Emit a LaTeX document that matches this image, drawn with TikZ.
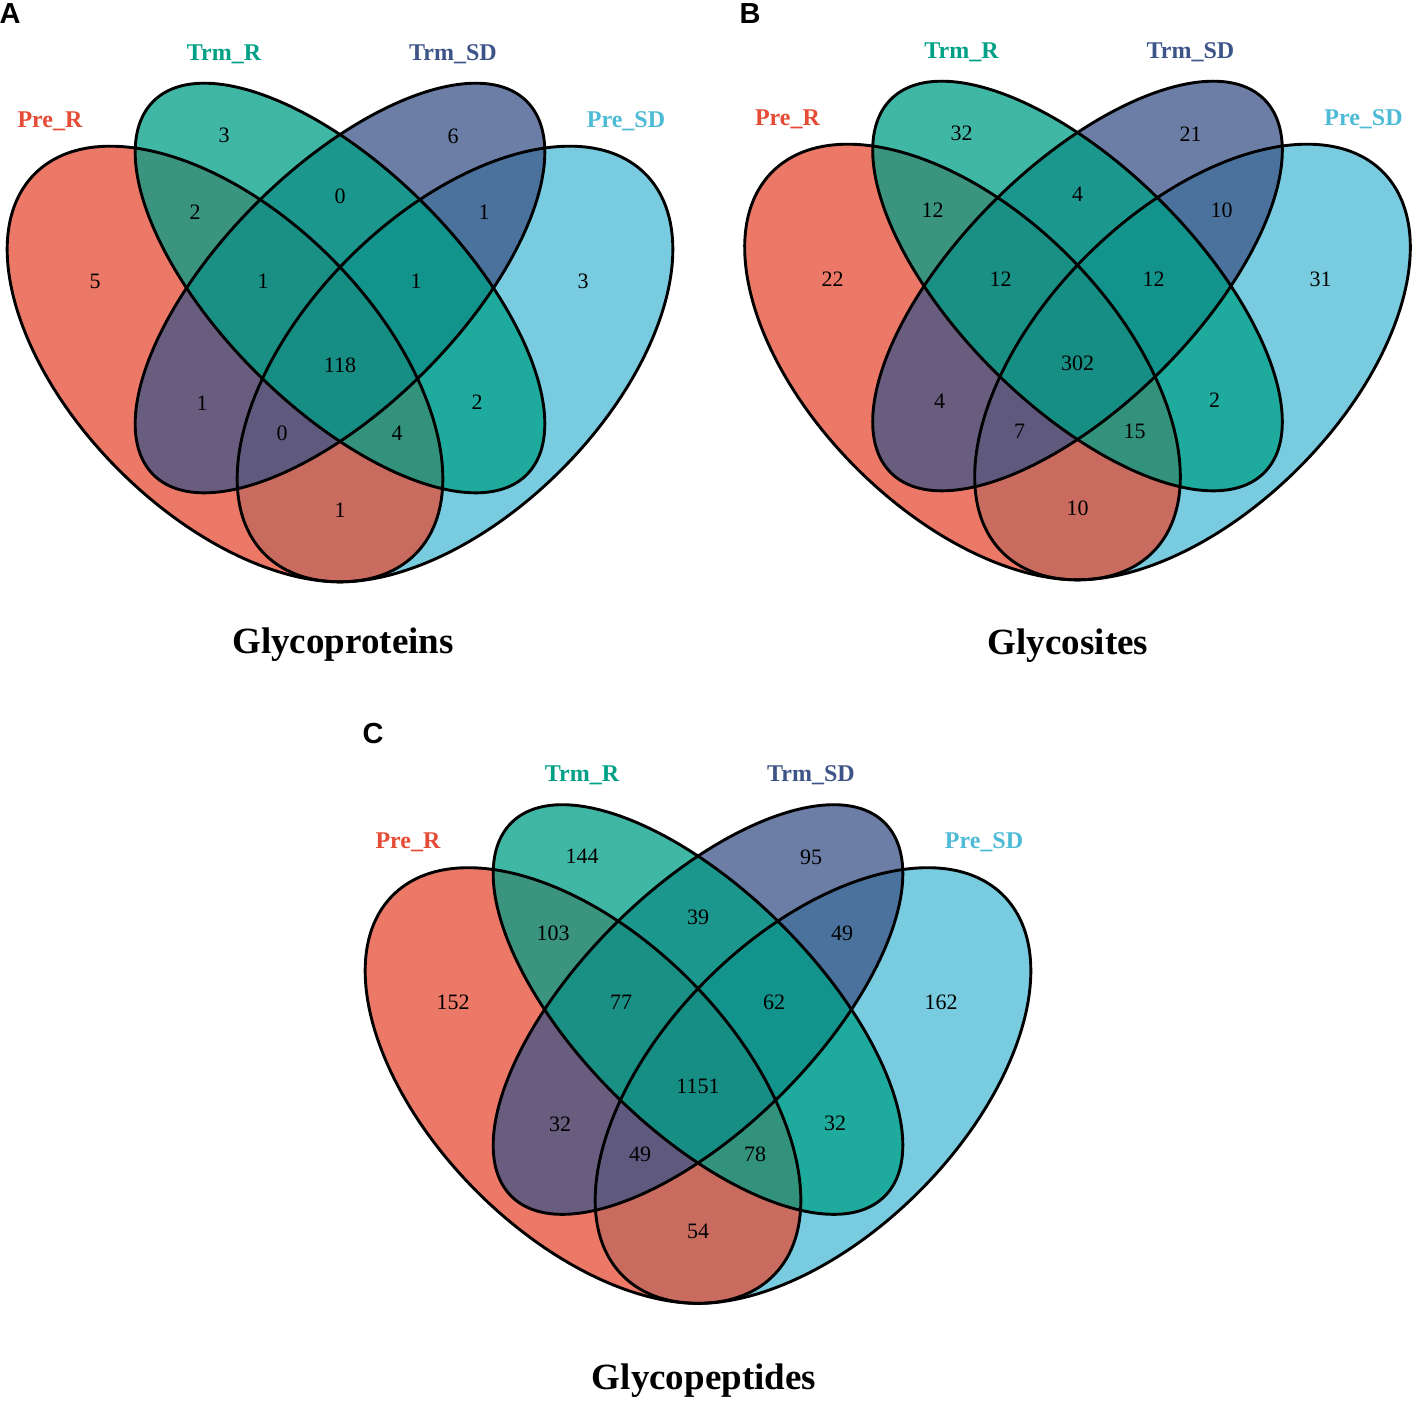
\documentclass[tikz,border=0pt]{standalone}
\usepackage{fontspec}
\setmainfont{Liberation Serif}
\newfontfamily\arialfont{Liberation Sans}
\definecolor{cPreR}{HTML}{E64B35}
\definecolor{cTrmR}{HTML}{00A087}
\definecolor{cTrmSD}{HTML}{3C5488}
\definecolor{cPreSD}{HTML}{4DBBD5}
\tikzset{
  numlab/.style={font=\fontsize{11}{13}\selectfont, text=black, inner sep=0pt},
  setlab/.style={font=\fontsize{12}{14}\selectfont\bfseries, inner sep=0pt, anchor=base},
  titlelab/.style={font=\fontsize{18.5}{22}\selectfont\bfseries, inner sep=0pt, anchor=base},
  panellab/.style={font=\arialfont\fontsize{14.5}{17}\selectfont\bfseries, inner sep=0pt},
  venfill/.style={fill opacity=0.75},
  venline/.style={draw=black, line width=1.45pt},
}
\newcommand\vennshapes{%
  \fill[venfill, cPreSD, rotate around={45:(455,364)}] (455,364) ellipse [x radius=269, y radius=150];
  \fill[venfill, cPreR, rotate around={-45:(225,364)}] (225,364) ellipse [x radius=269, y radius=150];
  \fill[venfill, cTrmSD, rotate around={45:(340,288)}] (340,288) ellipse [x radius=264, y radius=119];
  \fill[venfill, cTrmR, rotate around={-45:(340,288)}] (340,288) ellipse [x radius=264, y radius=119];
  \draw[venline, rotate around={45:(455,364)}] (455,364) ellipse [x radius=269, y radius=150];
  \draw[venline, rotate around={-45:(225,364)}] (225,364) ellipse [x radius=269, y radius=150];
  \draw[venline, rotate around={45:(340,288)}] (340,288) ellipse [x radius=264, y radius=119];
  \draw[venline, rotate around={-45:(340,288)}] (340,288) ellipse [x radius=264, y radius=119];
  \node[setlab, text=cPreR] (\pnl preR) at (50,127) {Pre\_R};
  \node[setlab, text=cTrmR] (\pnl trmR) at (224,60) {Trm\_R};
  \node[setlab, text=cTrmSD] (\pnl trmSD) at (453,60) {Trm\_SD};
  \node[setlab, text=cPreSD] (\pnl preSD) at (626,127) {Pre\_SD};
}
% 15 region counts
\newcommand\vennnums[2]{%
  \foreach \v [count=\i] in {#2} {
    \ifcase\i\or
      \node[numlab] (#1n\i) at (95,281) {\v};\or
      \node[numlab] (#1n\i) at (224,135) {\v};\or
      \node[numlab] (#1n\i) at (195,212) {\v};\or
      \node[numlab] (#1n\i) at (340,196) {\v};\or
      \node[numlab] (#1n\i) at (453,136) {\v};\or
      \node[numlab] (#1n\i) at (484,212) {\v};\or
      \node[numlab] (#1n\i) at (583,281) {\v};\or
      \node[numlab] (#1n\i) at (263,281) {\v};\or
      \node[numlab] (#1n\i) at (416,281) {\v};\or
      \node[numlab] (#1n\i) at (340,365) {\v};\or
      \node[numlab] (#1n\i) at (202,403) {\v};\or
      \node[numlab] (#1n\i) at (477,402) {\v};\or
      \node[numlab] (#1n\i) at (282,433) {\v};\or
      \node[numlab] (#1n\i) at (397,433) {\v};\or
      \node[numlab] (#1n\i) at (340,510) {\v};\fi
  }%
}
\begin{document}
\begin{tikzpicture}[x=0.5pt, y=-0.5pt]
  \useasboundingbox[fill=white] (0,0) rectangle (1418,1405);
  % Panel A
  \begin{scope}
    \def\pnl{A}
    \vennshapes
    \vennnums{A}{5,3,2,0,6,1,3,1,1,118,1,2,0,4,1}
  \end{scope}
  \node[panellab] (lblA) at (10,14) {A};
  \node[titlelab] (titleA) at (343,653) {Glycoproteins};
  % Panel B
  \begin{scope}[shift={(737.5,-2)}]
    \def\pnl{B}
    \vennshapes
    \vennnums{B}{22,32,12,4,21,10,31,12,12,302,4,2,7,15,10}
  \end{scope}
  \node[panellab] (lblB) at (750,14) {B};
  \node[titlelab] (titleB) at (1068,654) {Glycosites};
  % Panel C
  \begin{scope}[shift={(358,721.5)}]
    \def\pnl{C}
    \vennshapes
    \vennnums{C}{152,144,103,39,95,49,162,77,62,1151,32,32,49,78,54}
  \end{scope}
  \node[panellab] (lblC) at (373,733) {C};
  \node[titlelab] (titleC) at (704,1389) {Glycopeptides};
\end{tikzpicture}
\end{document}
